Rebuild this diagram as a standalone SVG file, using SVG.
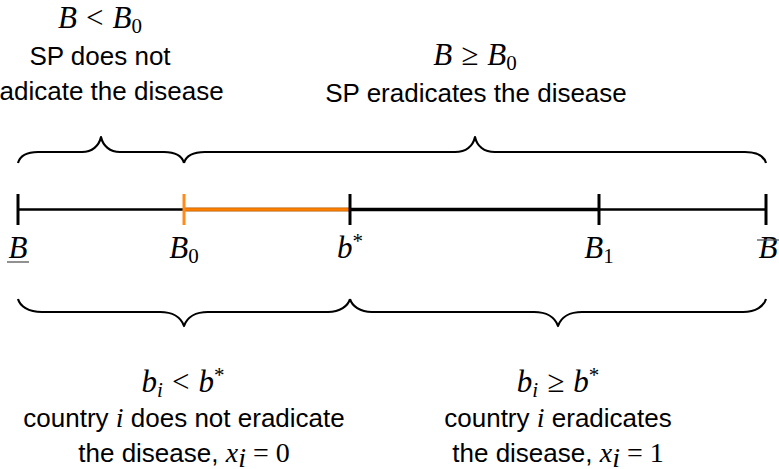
<svg xmlns="http://www.w3.org/2000/svg" width="779" height="469" viewBox="0 0 779 469">
<style>
.t{font-family:"Liberation Sans",Arial,sans-serif;font-size:26px;fill:#000;text-anchor:middle}
.m{font-family:"Liberation Serif","Times New Roman",serif;font-size:31px;font-style:italic;fill:#000;text-anchor:middle}
.mi{font-family:"Liberation Serif","Times New Roman",serif;font-style:italic;font-size:28px}
.mu{font-family:"Liberation Serif","Times New Roman",serif;font-style:normal;font-size:28px}
.up{font-style:normal}
.sub{font-size:21px;font-style:normal}
.subi{font-size:21px;font-style:italic}
.brace{fill:none;stroke:#000;stroke-width:2.2;stroke-linejoin:round}
.tick{stroke:#000;stroke-width:3}
</style>
<rect width="779" height="469" fill="#fff"/>
<g id="axis">
<line x1="18" y1="209.5" x2="184" y2="209.5" stroke="#000" stroke-width="2.5"/>
<line x1="350" y1="209.5" x2="599" y2="209.5" stroke="#000" stroke-width="3.5"/>
<line x1="599" y1="209.5" x2="766" y2="209.5" stroke="#000" stroke-width="2.5"/>
<line x1="184" y1="209.5" x2="350" y2="209.5" stroke="#b35a00" stroke-width="4"/>
<line x1="184" y1="209.5" x2="350" y2="209.5" stroke="#ff8000" stroke-width="2.4"/>
</g>
<g id="tick-Bunder"><line class="tick" x1="18" y1="194" x2="18" y2="225"/>
<text class="m" x="18" y="258">B</text><line x1="7" y1="262" x2="29" y2="262" stroke="#555" stroke-width="1.3"/></g>
<g id="tick-B0"><line x1="184" y1="194" x2="184" y2="225" stroke="#ff8c1a" stroke-width="3"/>
<text class="m" x="184" y="258">B<tspan class="sub" dy="5">0</tspan></text></g>
<g id="tick-bstar"><line class="tick" x1="350" y1="194" x2="350" y2="225"/>
<text class="m" x="350" y="258">b<tspan class="sub" dy="-10">*</tspan></text></g>
<g id="tick-B1"><line class="tick" x1="599" y1="194" x2="599" y2="225"/>
<text class="m" x="599" y="258">B<tspan class="sub" dy="5">1</tspan></text></g>
<g id="tick-Bover"><line class="tick" x1="766" y1="194" x2="766" y2="225"/>
<text class="m" x="768" y="258">B</text><line x1="757" y1="240" x2="779" y2="240" stroke="#555" stroke-width="1.3"/></g>
<g id="connectors">
<path class="brace" d="M18,163 C20,156 27,152 38,152 L82,152 C92,152 99,146 101,137 C103,146 110,152 120,152 L164,152 C175,152 182,156 184,163"/>
<path class="brace" d="M184,163 C186,156 193,152 205,152 L455,152 C466,152 473,146 475,137 C477,146 484,152 495,152 L745,152 C757,152 764,156 766,163"/>
<path class="brace" d="M18,299 C20,306 28,312 42,312 L160,312 C172,312 181,317 184,326 C187,317 196,312 208,312 L328,312 C340,312 348,306 350,299"/>
<path class="brace" d="M350,299 C352,306 360,312 372,312 L534,312 C546,312 555,317 558,326 C561,317 570,312 582,312 L743,312 C756,312 764,306 766,299"/>
</g>
<g id="label-SP-not">
<text class="m" x="100" y="28">B<tspan class="up" dx="9">&lt;</tspan><tspan dx="9">B</tspan><tspan class="sub" dy="5">0</tspan></text>
<text class="t" x="100" y="65">SP does not</text>
<text class="t" x="100" y="100">eradicate the disease</text>
</g>
<g id="label-SP">
<text class="m" x="475" y="65">B<tspan class="up" dx="9">≥</tspan><tspan dx="9">B</tspan><tspan class="sub" dy="5">0</tspan></text>
<text class="t" x="476" y="102">SP eradicates the disease</text>
</g>
<g id="label-country-not">
<text class="m" x="183" y="392">b<tspan class="subi" dy="5">i</tspan><tspan class="up" dy="-5" dx="9">&lt;</tspan><tspan dx="9">b</tspan><tspan class="sub" dy="-10">*</tspan></text>
<text class="t" x="184" y="427">country <tspan class="mi">i</tspan> does not eradicate</text>
<text class="t" x="184" y="462">the disease, <tspan class="mi">x</tspan><tspan class="mi" font-size="19" dy="5">i</tspan><tspan class="mu" dy="-5" dx="7">=</tspan><tspan class="mu" dx="7">0</tspan></text>
</g>
<g id="label-country">
<text class="m" x="558" y="392">b<tspan class="subi" dy="5">i</tspan><tspan class="up" dy="-5" dx="9">≥</tspan><tspan dx="9">b</tspan><tspan class="sub" dy="-10">*</tspan></text>
<text class="t" x="558" y="427">country <tspan class="mi">i</tspan> eradicates</text>
<text class="t" x="558" y="462">the disease, <tspan class="mi">x</tspan><tspan class="mi" font-size="19" dy="5">i</tspan><tspan class="mu" dy="-5" dx="7">=</tspan><tspan class="mu" dx="7">1</tspan></text>
</g>
</svg>
